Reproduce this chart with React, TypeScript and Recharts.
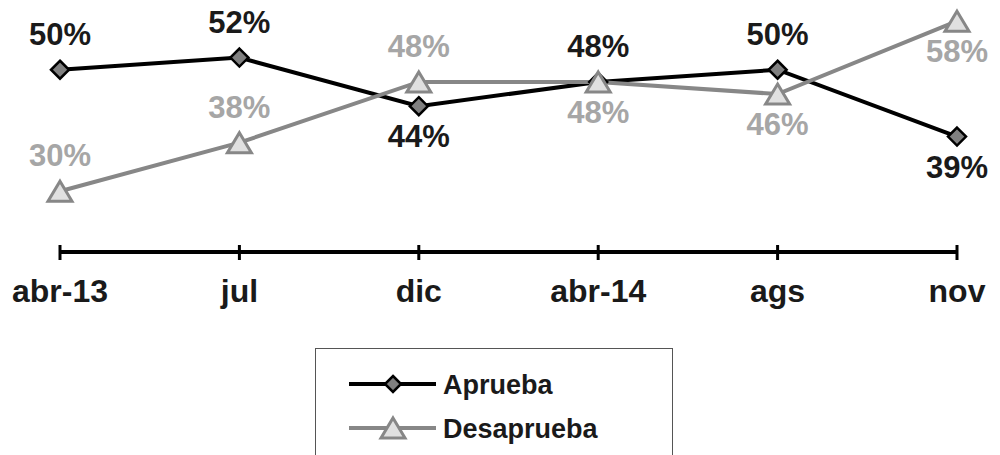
import React from 'react';
import { LineChart, Line, XAxis, YAxis, Legend, LabelList } from 'recharts';

const periods = ['abr-13', 'jul', 'dic', 'abr-14', 'ags', 'nov'];
const aprueba = [50, 52, 44, 48, 50, 39];
const desaprueba = [30, 38, 48, 48, 46, 58];
// where each data label sits relative to its point
const apruebaLabelSide = ['above', 'above', 'below', 'above', 'above', 'below'];
const desapruebaLabelSide = ['above', 'above', 'above', 'below', 'below', 'below'];

const data = periods.map((p, i) => ({ period: p, aprueba: aprueba[i], desaprueba: desaprueba[i] }));

const FONT = '"Liberation Sans", Arial, sans-serif';
const BLACK = '#000000';
const GREY_LINE = '#878787';
const GREY_TEXT = '#a6a6a6';

const Diamond = ({ cx, cy, r = 9 }: any) => (
  <polygon
    points={`${cx},${cy - r} ${cx + r},${cy} ${cx},${cy + r} ${cx - r},${cy}`}
    fill="#808080"
    stroke={BLACK}
    strokeWidth={2.5}
  />
);

const Triangle = ({ cx, cy, h = 10, w = 12 }: any) => (
  <polygon
    points={`${cx},${cy - h} ${cx + w},${cy + h} ${cx - w},${cy + h}`}
    fill="#e0e0e0"
    stroke={GREY_LINE}
    strokeWidth={3}
  />
);

const makeLabel = (sides: string[], color: string) => (props: any) => {
  const { x, y, value, index } = props;
  const above = sides[index] === 'above';
  return (
    <text
      x={x}
      y={above ? y - 25 : y + 41}
      textAnchor="middle"
      fontFamily={FONT}
      fontWeight="bold"
      fontSize={31}
      fill={color}
    >
      {value}%
    </text>
  );
};

const PeriodTick = ({ x, y, payload }: any) => (
  <g>
    <line x1={x} x2={x} y1={y - 7} y2={y + 8} stroke={BLACK} strokeWidth={3} />
    <text x={x} y={y + 50} textAnchor="middle" fontFamily={FONT} fontWeight="bold" fontSize={32} fill="#1a1a1a">
      {payload.value}
    </text>
  </g>
);

const LegendBox = () => (
  <div style={{ width: 358, height: 120, border: '1px solid #555', boxSizing: 'border-box', background: '#fff' }}>
    <svg width={356} height={118}>
      <line x1={33} x2={120} y1={35} y2={35} stroke={BLACK} strokeWidth={4} />
      <Diamond cx={77} cy={35} r={8} />
      <text x={127} y={45} fontFamily={FONT} fontWeight="bold" fontSize={27} fill="#1a1a1a">Aprueba</text>
      <line x1={33} x2={120} y1={79} y2={79} stroke={GREY_LINE} strokeWidth={4} />
      <Triangle cx={77} cy={79} h={10} w={12} />
      <text x={127} y={89} fontFamily={FONT} fontWeight="bold" fontSize={27} fill="#1a1a1a">Desaprueba</text>
    </svg>
  </div>
);

export default function App() {
  return (
    <div style={{ position: 'absolute', left: 0, top: 0, width: 1000, height: 455, background: '#fff' }}>
      <LineChart width={1000} height={455} data={data} margin={{ top: 9, right: 43, left: 60, bottom: 0 }}>
        <XAxis
          dataKey="period"
          height={203}
          axisLine={{ stroke: BLACK, strokeWidth: 4 }}
          tickLine={false}
          tickSize={0}
          tickMargin={0}
          tick={<PeriodTick />}
          interval={0}
        />
        <YAxis hide domain={[20, 60]} />
        <Legend
          content={() => <LegendBox />}
          wrapperStyle={{ position: 'absolute', left: 315, top: 348, width: 358, height: 0 }}
        />
        <Line
          dataKey="aprueba"
          name="Aprueba"
          stroke={BLACK}
          strokeWidth={4}
          dot={(p: any) => <Diamond key={`a${p.index}`} cx={p.cx} cy={p.cy} />}
          isAnimationActive={false}
        >
          <LabelList dataKey="aprueba" content={makeLabel(apruebaLabelSide, '#1a1a1a')} />
        </Line>
        <Line
          dataKey="desaprueba"
          name="Desaprueba"
          stroke={GREY_LINE}
          strokeWidth={4}
          dot={(p: any) => <Triangle key={`d${p.index}`} cx={p.cx} cy={p.cy} />}
          isAnimationActive={false}
        >
          <LabelList dataKey="desaprueba" content={makeLabel(desapruebaLabelSide, GREY_TEXT)} />
        </Line>
      </LineChart>
    </div>
  );
}
